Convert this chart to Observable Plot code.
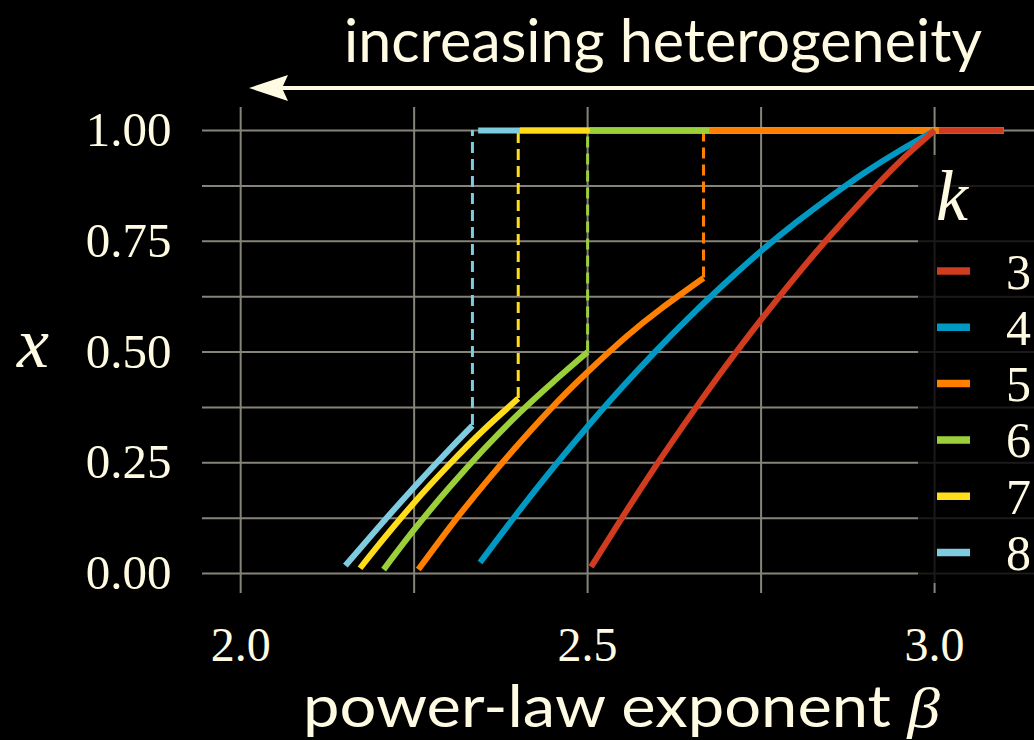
<!DOCTYPE html>
<html>
<head>
<meta charset="utf-8">
<script src="https://cdn.jsdelivr.net/npm/d3@7"></script>
<script src="https://cdn.jsdelivr.net/npm/@observablehq/plot@0.6"></script>
<style>
  html, body { margin: 0; padding: 0; background: #000; }
  #chart svg { display: block; }
</style>
</head>
<body>
<div id="chart"></div>
<script>
// ---- data ----
const ks = [3, 4, 5, 6, 7, 8];
const colors = ["#d13b1f", "#0099c4", "#ff8000", "#9cd03b", "#ffdd1a", "#7ecce0"];

const beta_k3 = [2.505, 2.55, 2.60, 2.65, 2.70, 2.75, 2.80, 2.85, 2.90, 2.95, 3.00];
const x_k3    = [0.015, 0.127, 0.247, 0.361, 0.470, 0.573, 0.671, 0.763, 0.849, 0.930, 1.00];

const beta_k4 = [2.345, 2.40, 2.45, 2.50, 2.55, 2.60, 2.65, 2.70, 2.75, 2.80, 2.85, 2.90, 2.95, 3.00];
const x_k4    = [0.025, 0.139, 0.238, 0.332, 0.421, 0.505, 0.584, 0.658, 0.728, 0.792, 0.851, 0.906, 0.955, 1.00];

const beta_k5 = [2.256, 2.306, 2.356, 2.406, 2.456, 2.50, 2.556, 2.606, 2.667];
const x_k5    = [0.009, 0.114, 0.211, 0.302, 0.387, 0.455, 0.535, 0.598, 0.667];

const beta_k6 = [2.206, 2.25, 2.30, 2.35, 2.40, 2.45, 2.50];
const x_k6    = [0.009, 0.099, 0.193, 0.28, 0.36, 0.432, 0.50];

const beta_k7 = [2.172, 2.20, 2.25, 2.30, 2.35, 2.40];
const x_k7    = [0.012, 0.067, 0.16, 0.245, 0.324, 0.395];

const beta_k8 = [2.151, 2.20, 2.25, 2.30, 2.334];
const x_k8    = [0.018, 0.107, 0.195, 0.279, 0.334];

// jump (dashed) positions, per k (3..8); null = no jump
const jumpBeta = [null, null, 2.667, 2.50, 2.40, 2.334];
const jumpX    = [null, null, 0.667, 0.50, 0.395, 0.334];
// plateau at x = 1
const plateauLevel = 1.0;
const plateauStart = [3.007, 3.007, 2.676, 2.504, 2.403, 2.343];
const plateauEnd = 3.10;

const xTicks = [2.0, 2.5, 3.0];
const xGrid = [2.0, 2.25, 2.5, 2.75, 3.0];
const yTicks = [0, 0.25, 0.5, 0.75, 1.0];
const yGrid = [0, 0.125, 0.25, 0.375, 0.5, 0.625, 0.75, 0.875, 1.0];

const titleText = "increasing heterogeneity";
const xLabelText = "power-law exponent ";
const xLabelSym = "β";
const yLabelText = "x";
const legendTitle = "k";

// ---- build tables ----
const betas = {3: beta_k3, 4: beta_k4, 5: beta_k5, 6: beta_k6, 7: beta_k7, 8: beta_k8};
const xs = {3: x_k3, 4: x_k4, 5: x_k5, 6: x_k6, 7: x_k7, 8: x_k8};
const order = ks.slice().reverse(); // draw 8 first, 3 on top

const curveRows = [];
for (const k of order) betas[k].forEach((b, i) => curveRows.push({k, beta: b, x: xs[k][i]}));

const jumpRows = [];
for (const k of order) {
  const i = ks.indexOf(k);
  if (jumpBeta[i] != null) jumpRows.push({k, beta: jumpBeta[i], x0: jumpX[i], x1: plateauLevel});
}
const plateauRows = order.map(k => {
  const i = ks.indexOf(k);
  return {k, start: plateauStart[i], end: plateauEnd, level: plateauLevel};
});

const cream = "#fffbe3";
const gridColor = "#86847a";

const chart = Plot.plot({
  width: 1034,
  height: 740,
  marginLeft: 202,
  marginRight: 0,
  marginTop: 107,
  marginBottom: 147,
  style: {background: "#000", color: cream, fontFamily: "'Liberation Serif', serif", fontSize: "47px"},
  x: {domain: [1.945, 3.144], label: null},
  y: {domain: [-0.045, 1.052], label: null},
  color: {domain: ks, range: colors},
  marks: [
    Plot.gridX(xGrid, {stroke: gridColor, strokeOpacity: 1, strokeWidth: 2}),
    Plot.gridY(yGrid, {stroke: gridColor, strokeOpacity: 1, strokeWidth: 2}),
    Plot.axisX({ticks: xTicks, tickFormat: d3.format(".1f"), tickSize: 0, tickPadding: 33, label: null, fontSize: 48}),
    Plot.axisY({ticks: yTicks, tickFormat: d3.format(".2f"), tickSize: 0, tickPadding: 31, label: null, fontSize: 49}),
    Plot.ruleX(jumpRows, {x: "beta", y1: "x0", y2: "x1", stroke: "k", strokeWidth: 3, strokeDasharray: "11,6"}),
    Plot.ruleY(plateauRows, {y: "level", x1: "start", x2: "end", stroke: "k", strokeWidth: 6}),
    Plot.line(curveRows, {x: "beta", y: "x", z: "k", stroke: "k", strokeWidth: 6, curve: "natural", strokeLinecap: "butt", strokeLinejoin: "round"})
  ]
});

document.getElementById("chart").appendChild(chart);

// ---- annotations: title, arrow, axis labels, legend ----
const svg = d3.select(chart);

svg.append("text")
  .attr("x", 344).attr("y", 62)
  .attr("text-anchor", "start")
  .attr("fill", cream)
  .attr("font-family", "Lato, 'Open Sans', sans-serif")
  .attr("font-size", 60)
  .attr("textLength", 638).attr("lengthAdjust", "spacingAndGlyphs")
  .text(titleText);

svg.append("line")
  .attr("x1", 282).attr("x2", 1034).attr("y1", 88).attr("y2", 88)
  .attr("stroke", cream).attr("stroke-width", 4);
svg.append("polygon")
  .attr("points", "249,88 288,75 282,88 288,101")
  .attr("fill", cream);

const xl = svg.append("text")
  .attr("x", 303).attr("y", 727)
  .attr("text-anchor", "start")
  .attr("fill", cream)
  .attr("font-family", "Lato, 'Open Sans', sans-serif")
  .attr("font-size", 58)
  .attr("textLength", 637).attr("lengthAdjust", "spacingAndGlyphs");
xl.append("tspan").text(xLabelText);
xl.append("tspan").attr("font-family", "'Liberation Serif', serif").attr("font-style", "italic").text(xLabelSym);

svg.append("text")
  .attr("x", 17).attr("y", 367)
  .attr("text-anchor", "start")
  .attr("fill", cream)
  .attr("font-family", "'Liberation Serif', serif")
  .attr("font-style", "italic")
  .attr("font-size", 72)
  .text(yLabelText);

// legend
const lg = svg.append("g");
lg.append("rect")
  .attr("x", 918).attr("y", 155).attr("width", 116).attr("height", 428)
  .attr("fill", "#000").attr("fill-opacity", 0.8);
lg.append("text")
  .attr("x", 936).attr("y", 220)
  .attr("text-anchor", "start")
  .attr("fill", cream)
  .attr("font-family", "'Liberation Serif', serif")
  .attr("font-style", "italic")
  .attr("font-size", 72)
  .text(legendTitle);
ks.forEach((k, i) => {
  const yy = 271 + i * 56.3;
  lg.append("line")
    .attr("x1", 937).attr("x2", 970).attr("y1", yy).attr("y2", yy)
    .attr("stroke", colors[i]).attr("stroke-width", 7.5);
  lg.append("text")
    .attr("x", 1031).attr("y", yy)
    .attr("dy", "0.35em")
    .attr("text-anchor", "end")
    .attr("fill", cream)
    .attr("font-family", "'Liberation Serif', serif")
    .attr("font-size", 50)
    .text(String(k));
});
</script>
</body>
</html>
